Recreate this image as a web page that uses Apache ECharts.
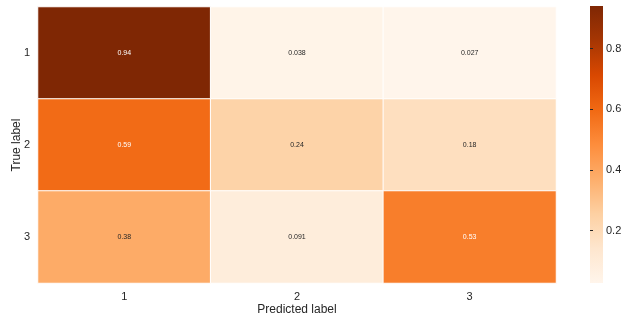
<!DOCTYPE html>
<html><head><meta charset="utf-8">
<script src="https://cdn.jsdelivr.net/npm/echarts@6/dist/echarts.min.js"></script>
<style>html,body{margin:0;padding:0;background:#fff}#c{width:629px;height:318px}</style>
</head><body><div id="c"></div>
<script>
const predictedLabels = ['1', '2', '3'];
const trueLabels = ['1', '2', '3'];
const row1 = [0.94, 0.038, 0.027];
const row2 = [0.59, 0.24, 0.18];
const row3 = [0.38, 0.091, 0.53];
const colorbarTicks = [0.2, 0.4, 0.6, 0.8];
const vMin = 0.027, vMax = 0.94;
const oranges = ['#fff5eb','#fee6ce','#fdd0a2','#fdae6b','#fd8d3c','#f16913','#d94801','#a63603','#7f2704'];

const rows = [row1, row2, row3];
const data = [];
rows.forEach((r, yi) => r.forEach((v, xi) => {
  data.push({ value: [xi, yi, v], label: { color: v > 0.5 ? '#ffffff' : '#262626' } });
}));
const font = 'Liberation Sans, Arial, sans-serif';
const cb = { left: 590, top: 6, width: 13, height: 277 };
const chart = echarts.init(document.getElementById('c'));
chart.setOption({
  animation: false,
  textStyle: { fontFamily: font },
  grid: [
    { left: 38, right: 73, top: 7, bottom: 35, outerBoundsMode: 'none', containLabel: false },
    { left: cb.left, width: cb.width, top: cb.top, height: cb.height, outerBoundsMode: 'none', containLabel: false }
  ],
  xAxis: [
    { type: 'category', data: predictedLabels, gridIndex: 0,
      name: 'Predicted label', nameLocation: 'middle', nameGap: 21, nameMoveOverlap: false,
      nameTextStyle: { fontSize: 12, color: '#262626', fontFamily: font },
      axisLine: { show: false }, axisTick: { show: false }, splitLine: { show: false },
      axisLabel: { fontSize: 11, color: '#262626', margin: 8, fontFamily: font } },
    { type: 'value', gridIndex: 1, show: false, min: 0, max: 1 }
  ],
  yAxis: [
    { type: 'category', data: trueLabels, gridIndex: 0, inverse: true,
      name: 'True label', nameLocation: 'middle', nameGap: 15, nameRotate: 90, nameMoveOverlap: false,
      nameTextStyle: { fontSize: 12, color: '#262626', fontFamily: font },
      axisLine: { show: false }, axisTick: { show: false }, splitLine: { show: false },
      axisLabel: { fontSize: 11, color: '#262626', margin: 8, fontFamily: font } },
    { type: 'value', gridIndex: 1, position: 'right', min: vMin, max: vMax,
      axisLine: { show: false }, splitLine: { show: false },
      axisTick: { show: true, length: 3, inside: false, customValues: colorbarTicks, lineStyle: { color: '#262626' } },
      axisLabel: { fontSize: 11, color: '#262626', margin: 3, customValues: colorbarTicks, fontFamily: font,
        formatter: v => v.toFixed(1) } }
  ],
  visualMap: {
    type: 'continuous', min: vMin, max: vMax, calculable: false, show: false,
    seriesIndex: 0, dimension: 2,
    inRange: { color: oranges }
  },
  graphic: [{
    type: 'rect', left: cb.left, top: cb.top, z: 0,
    shape: { width: cb.width, height: cb.height },
    style: { fill: new echarts.graphic.LinearGradient(0, 1, 0, 0,
      oranges.map((c, i) => ({ offset: i / (oranges.length - 1), color: c }))) }
  }],
  series: [{
    type: 'heatmap', xAxisIndex: 0, yAxisIndex: 0, data: data,
    itemStyle: { borderColor: '#ffffff', borderWidth: 1 },
    label: { show: true, fontSize: 7, fontFamily: font, formatter: p => String(p.value[2]) },
    emphasis: { disabled: true }
  }]
});
</script></body></html>
